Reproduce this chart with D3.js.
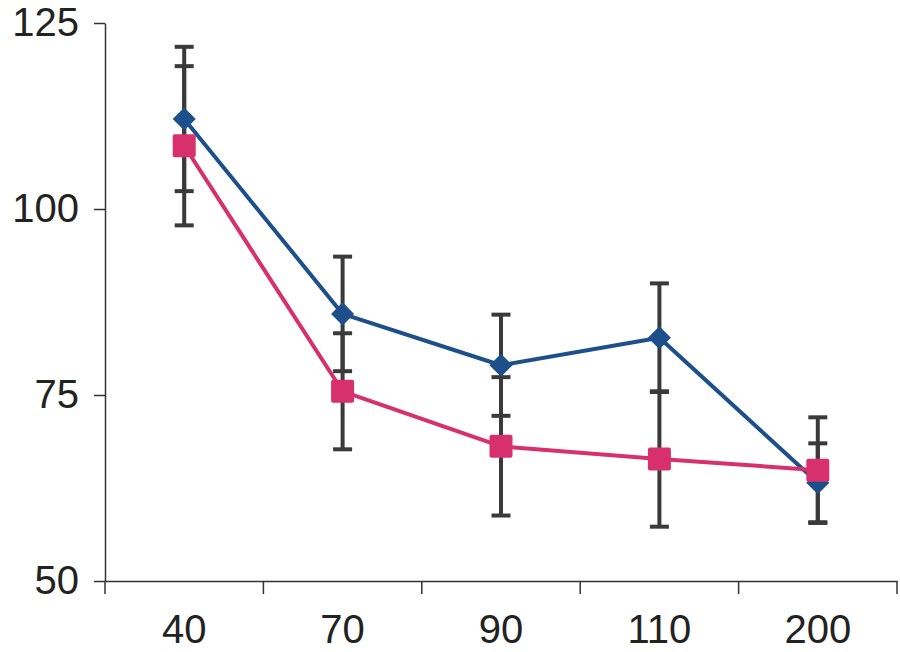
<!DOCTYPE html>
<html>
<head>
  <script src="https://d3js.org/d3.v7.min.js"></script>
  <style>
    body { margin: 0; background: #fff; }
    .axis text { font-family: "Liberation Sans", Arial, sans-serif; font-size: 40px; fill: #222; }
  </style>
</head>
<body>
  <div id="chart"></div>
  <script>
    // categories on x
    var categories = ["40", "70", "90", "110", "200"];
    // blue diamond series
    var blueValues = [112.1, 85.9, 79.0, 82.7, 63.2];
    var blueErrors = [9.7, 7.7, 6.8, 7.3, 5.3];
    // pink square series
    var pinkValues = [108.5, 75.5, 68.1, 66.4, 64.9];
    var pinkErrors = [10.7, 7.8, 9.3, 9.1, 7.1];
    var yTicks = [50, 75, 100, 125];

    var W = 900, H = 652;
    var margin = { top: 23, right: 3, bottom: 71, left: 105 };

    var svg = d3.select("#chart").append("svg")
      .attr("width", W).attr("height", H);

    var x = d3.scaleBand()
      .domain(categories)
      .range([margin.left, W - margin.right])
      .padding(0);

    var y = d3.scaleLinear()
      .domain([50, 125])
      .range([H - margin.bottom, margin.top]);

    // y axis
    var yAxis = svg.append("g")
      .attr("class", "axis")
      .attr("transform", "translate(" + margin.left + ",0)")
      .call(d3.axisLeft(y).tickValues(yTicks).tickSize(11).tickPadding(15).tickSizeOuter(0));
    yAxis.select(".domain").attr("stroke", "#333").attr("stroke-width", 1.5);
    yAxis.selectAll(".tick line").attr("stroke", "#333").attr("stroke-width", 1.5);

    // x axis, labels only
    var xAxis = svg.append("g")
      .attr("class", "axis")
      .attr("transform", "translate(0," + (H - margin.bottom) + ")")
      .call(d3.axisBottom(x).tickSize(0).tickPadding(34));
    xAxis.select(".domain").attr("stroke", "#333").attr("stroke-width", 1.5);

    // x tick marks on band boundaries
    var bounds = categories.map(function(d) { return x(d); });
    bounds.push(x(categories[categories.length - 1]) + x.bandwidth());
    xAxis.selectAll(".bound")
      .data(bounds)
      .enter().append("line")
      .attr("class", "bound")
      .attr("x1", function(d) { return d; })
      .attr("x2", function(d) { return d; })
      .attr("y1", 0).attr("y2", 13)
      .attr("stroke", "#333").attr("stroke-width", 1.5);

    var cx = function(i) { return x(categories[i]) + x.bandwidth() / 2; };

    var series = [
      { values: blueValues, errors: blueErrors, color: "#1d4f8b", shape: "diamond" },
      { values: pinkValues, errors: pinkErrors, color: "#d7306d", shape: "square" }
    ];

    // error bars
    series.forEach(function(s) {
      var g = svg.append("g");
      s.values.forEach(function(v, i) {
        var top = y(v + s.errors[i]), bot = y(v - s.errors[i]);
        g.append("line")
          .attr("x1", cx(i)).attr("x2", cx(i))
          .attr("y1", top).attr("y2", bot)
          .attr("stroke", "#3a3a3a").attr("stroke-width", 4);
        [top, bot].forEach(function(yy) {
          g.append("line")
            .attr("x1", cx(i) - 9.5).attr("x2", cx(i) + 9.5)
            .attr("y1", yy).attr("y2", yy)
            .attr("stroke", "#3a3a3a").attr("stroke-width", 4);
        });
      });
    });

    var line = d3.line()
      .x(function(d, i) { return cx(i); })
      .y(function(d) { return y(d); });

    // lines
    series.forEach(function(s) {
      svg.append("path")
        .datum(s.values)
        .attr("d", line)
        .attr("fill", "none")
        .attr("stroke", s.color)
        .attr("stroke-width", 4)
        .attr("stroke-linejoin", "round");
    });

    // markers
    series.forEach(function(s) {
      var g = svg.append("g");
      s.values.forEach(function(v, i) {
        if (s.shape === "diamond") {
          g.append("path")
            .attr("d", d3.symbol().type(d3.symbolDiamond2).size(340)())
            .attr("transform", "translate(" + cx(i) + "," + y(v) + ")")
            .attr("fill", s.color);
        } else {
          g.append("rect")
            .attr("x", cx(i) - 11.5).attr("y", y(v) - 11.5)
            .attr("width", 23).attr("height", 23)
            .attr("rx", 2)
            .attr("fill", s.color);
        }
      });
    });
  </script>
</body>
</html>
